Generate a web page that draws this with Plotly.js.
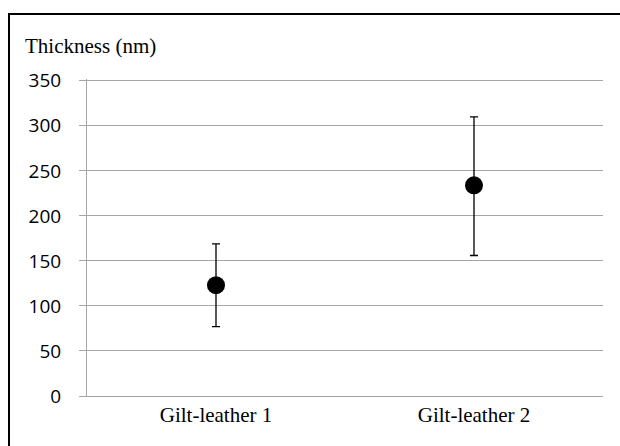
<!DOCTYPE html>
<html>
<head>
<meta charset="utf-8">
<script src="https://cdn.plot.ly/plotly-3.0.1.min.js"></script>
<style>
html,body{margin:0;padding:0;background:#fff;}
#chart{width:620px;height:446px;}
</style>
</head>
<body>
<div id="chart"></div>
<script>
// Data
const categories = ["Gilt-leather 1", "Gilt-leather 2"];
const thickness = [123, 234];
const errorPlus = [46, 76];
const errorMinus = [46, 78];
const yTickVals = [0, 50, 100, 150, 200, 250, 300, 350];

const trace = {
  type: "scatter",
  mode: "markers",
  x: categories,
  y: thickness,
  marker: {color: "#000000", size: 18, symbol: "circle"},
  error_y: {
    type: "data",
    symmetric: false,
    array: errorPlus,
    arrayminus: errorMinus,
    color: "#000000",
    thickness: 1.3,
    width: 4
  },
  showlegend: false,
  hoverinfo: "skip"
};

const layout = {
  width: 620,
  height: 446,
  margin: {l: 87, r: 17, t: 79, b: 50},
  paper_bgcolor: "#ffffff",
  plot_bgcolor: "#ffffff",
  showlegend: false,
  title: {
    text: "Thickness (nm)",
    font: {family: "'Liberation Serif', 'Times New Roman', serif", size: 21, color: "#000000"},
    x: 25 / 620,
    xanchor: "left",
    xref: "container",
    y: 1 - 46 / 446,
    yanchor: "middle",
    yref: "container"
  },
  xaxis: {
    type: "category",
    range: [-0.5, 1.5],
    showgrid: false,
    zeroline: false,
    showline: true,
    linecolor: "#a6a6a6",
    linewidth: 1,
    ticks: "",
    tickfont: {family: "'Liberation Serif', 'Times New Roman', serif", size: 21, color: "#000000"},
    fixedrange: true
  },
  yaxis: {
    range: [0, 352],
    tickvals: yTickVals,
    ticktext: yTickVals.map(String),
    showgrid: true,
    gridcolor: "#a6a6a6",
    gridwidth: 1,
    zeroline: false,
    showline: true,
    linecolor: "#a6a6a6",
    linewidth: 1,
    ticks: "outside",
    ticklen: 7,
    tickcolor: "#a6a6a6",
    ticklabelstandoff: 14,
    tickfont: {family: "'Open Sans', 'Noto Sans', sans-serif", size: 19, color: "#000000"},
    fixedrange: true
  },
  shapes: [{
    type: "rect",
    xref: "paper", yref: "paper",
    x0: (9 - 87) / 516, x1: 1.2,
    y0: -0.3, y1: (396 - 14) / 317,
    line: {color: "#000000", width: 2},
    fillcolor: "rgba(0,0,0,0)",
    layer: "above"
  }]
};

Plotly.newPlot("chart", [trace], layout, {displayModeBar: false, staticPlot: true});
</script>
</body>
</html>
